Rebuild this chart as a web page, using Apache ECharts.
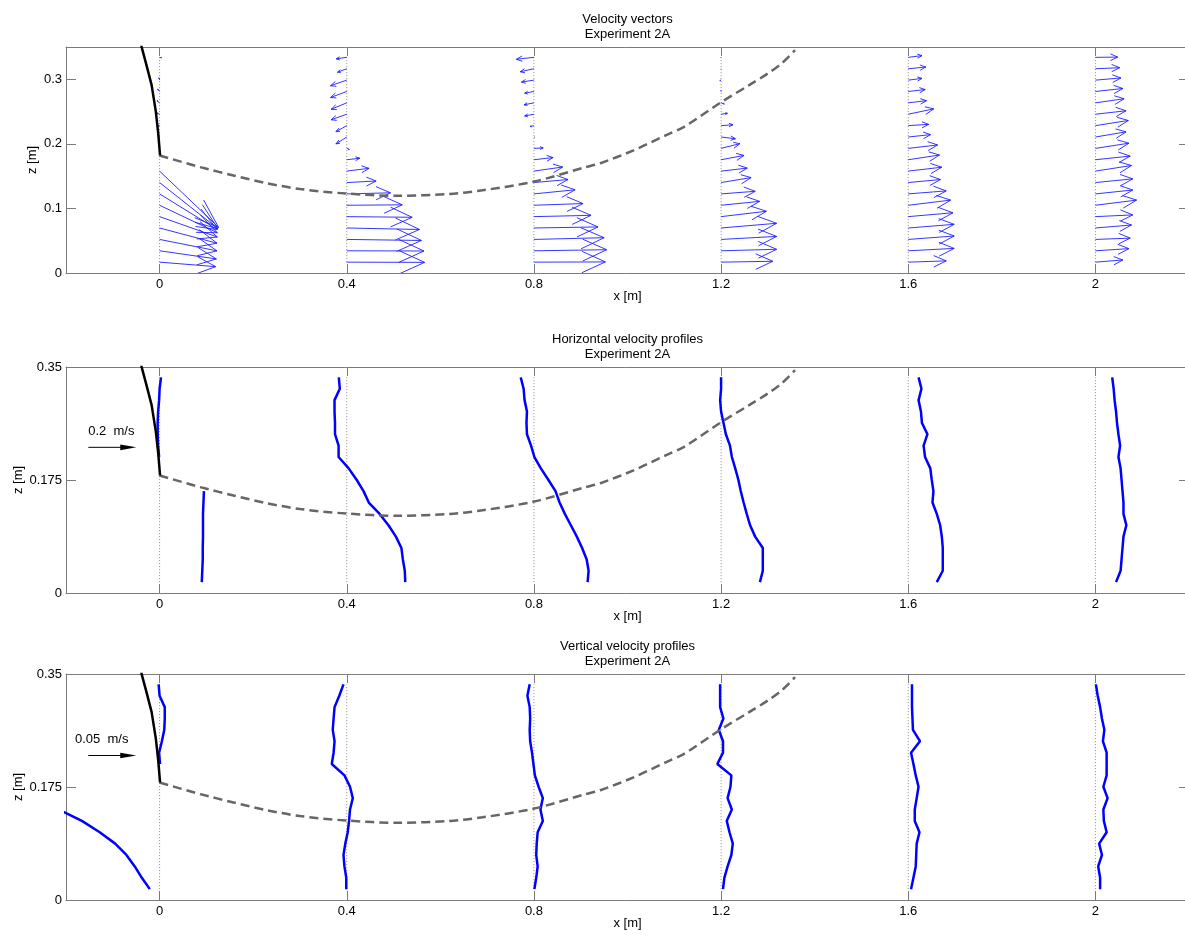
<!DOCTYPE html>
<html>
<head>
<meta charset="utf-8">
<title>Experiment 2A - velocity profiles</title>
<script src="https://cdn.jsdelivr.net/npm/echarts@6/dist/echarts.min.js"></script>
<style>
  html, body { margin: 0; padding: 0; background: #ffffff; }
  #chart { width: 1185px; height: 937px; }
</style>
</head>
<body>
<div id="chart"></div>
<script>
// ---------------------------------------------------------------
// Data: Experiment 2A
// ---------------------------------------------------------------
// Profile stations along the flume (m)
const stations = [0, 0.4, 0.8, 1.2, 1.6, 2.0];

// Measurement heights, bottom to top (m)
const zLevels = [0.0168, 0.0344, 0.0520, 0.0697, 0.0873, 0.1049, 0.1225, 0.1401, 0.1578,
                 0.1754, 0.1930, 0.2106, 0.2282, 0.2459, 0.2635, 0.2811, 0.2987, 0.3163, 0.3340];

// Horizontal velocity u (m/s) at each station, bottom to top (null = no measurement)
const u_x00 = [0.176, 0.178, 0.180, 0.180, 0.181, 0.181, 0.181, 0.183, 0.185,
               null, null, -0.002, -0.006, -0.008, -0.008, -0.006, -0.002, 0.000, 0.006];
const u_x04 = [0.244, 0.242, 0.234, 0.228, 0.205, 0.174, 0.137, 0.092, 0.070,
               0.041, 0.008, -0.034, -0.034, -0.049, -0.049, -0.051, -0.051, -0.029, -0.033];
const u_x08 = [0.224, 0.228, 0.220, 0.201, 0.179, 0.154, 0.129, 0.107, 0.090,
               0.060, 0.029, 0.002, -0.012, -0.029, -0.031, -0.029, -0.039, -0.043, -0.055];
const u_x12 = [0.162, 0.174, 0.174, 0.174, 0.142, 0.121, 0.107, 0.094, 0.082,
               0.072, 0.059, 0.045, 0.037, 0.020, 0.010, 0.000, -0.004, 0.000, 0.000];
const u_x16 = [0.119, 0.144, 0.144, 0.144, 0.140, 0.133, 0.119, 0.101, 0.105,
               0.098, 0.092, 0.070, 0.064, 0.080, 0.057, 0.053, 0.043, 0.055, 0.043];
const u_x20 = [0.086, 0.105, 0.109, 0.113, 0.117, 0.129, 0.117, 0.117, 0.113,
               0.109, 0.105, 0.096, 0.103, 0.096, 0.090, 0.086, 0.080, 0.076, 0.070];

// Vertical velocity w (m/s) at each station, bottom to top (null = no measurement)
const w_x00 = [-0.0102, -0.0185, -0.0259, -0.0346, -0.0463, -0.0624, -0.0810, -0.1049, -0.1278,
               null, null, 0.0005, -0.0005, 0.0024, 0.0049, 0.0054, 0.0054, 0.0000, -0.0010];
const w_x04 = [-0.0005, -0.0005, -0.0024, -0.0034, -0.0015, 0.0010, 0.0024, 0.0034, 0.0063,
               0.0034, -0.0024, -0.0156, -0.0137, -0.0127, -0.0146, -0.0137, -0.0127, -0.0078, -0.0034];
const w_x08 = [0.0005, 0.0024, 0.0039, 0.0024, 0.0029, 0.0039, 0.0093, 0.0068, 0.0093,
               0.0049, 0.0010, -0.0005, -0.0020, -0.0039, -0.0044, -0.0039, -0.0044, -0.0068, -0.0044];
const w_x12 = [0.0020, 0.0034, 0.0068, 0.0107, 0.0122, 0.0088, 0.0059, 0.0112, 0.0068,
               0.0098, 0.0107, -0.0039, 0.0020, 0.0020, -0.0024, 0.0024, -0.0010, -0.0010, -0.0010];
const w_x16 = [0.0029, 0.0054, 0.0078, 0.0083, 0.0088, 0.0117, 0.0068, 0.0068, 0.0088,
               0.0107, 0.0078, 0.0054, 0.0029, 0.0122, 0.0049, 0.0044, 0.0039, 0.0039, 0.0039];
const w_x20 = [0.0049, 0.0049, 0.0029, 0.0068, 0.0039, 0.0117, 0.0088, 0.0083, 0.0127,
               0.0083, 0.0117, 0.0117, 0.0117, 0.0078, 0.0093, 0.0068, 0.0049, 0.0024, 0.0005];

// Sloping wall above the inflow (m)
const slopeX = [-0.040, -0.038, -0.028, -0.017, -0.008, -0.003, 0.001];
const slopeZ = [0.356, 0.349, 0.322, 0.291, 0.250, 0.217, 0.182];

// Interface / bed line (m)
const interfaceX = [0.000, 0.087, 0.158, 0.230, 0.300, 0.400, 0.510, 0.620, 0.690, 0.800,
                    0.906, 0.942, 1.013, 1.084, 1.120, 1.200, 1.260, 1.300, 1.330, 1.358];
const interfaceZ = [0.182, 0.164, 0.151, 0.139, 0.130, 0.123, 0.1195, 0.1225, 0.128, 0.1416,
                    0.163, 0.170, 0.190, 0.214, 0.226, 0.2645, 0.291, 0.309, 0.325, 0.345];

// Axis ticks
const xTicks = [0, 0.4, 0.8, 1.2, 1.6, 2];
const zTicksVectors = [0, 0.1, 0.2, 0.3];
const zTicksProfiles = [0, 0.175, 0.35];

// Titles
const panelTitles = ['Velocity vectors', 'Horizontal velocity profiles', 'Vertical velocity profiles'];
const subTitle = 'Experiment 2A';

// Reference velocities for the scale arrows (m/s)
const refLabels = ['0.2  m/s', '0.05  m/s'];
const refValues = [0.2, 0.05];

// ---------------------------------------------------------------
// Drawing settings
// ---------------------------------------------------------------
const VEC_SCALE = 0.682;   // m of arrow per m/s (vector plot)
const U_SCALE = 0.5125;    // m of offset per m/s (horizontal profiles)
const W_SCALE = 2.05;      // m of offset per m/s (vertical profiles)

const FONT = '"Liberation Sans", Arial, Helvetica, sans-serif';
const AXIS_COLOR = '#7b7b7b';
const TEXT_COLOR = '#000000';
const GRID_LEFT = 66, GRID_WIDTH = 1123, GRID_HEIGHT = 226;
const GRID_TOPS = [47, 367, 674];
const Y_NAME_GAPS = [27, 41, 41];   // wider tick labels push the z label further out

const U = [u_x00, u_x04, u_x08, u_x12, u_x16, u_x20];
const W = [w_x00, w_x04, w_x08, w_x12, w_x16, w_x20];

const fmt = v => String(Math.round(v * 1000) / 1000);
const zip = (xs, zs) => xs.map((x, i) => [x, zs[i]]);

// ---------------------------------------------------------------
// Axes
// ---------------------------------------------------------------
const grids = GRID_TOPS.map(t => ({
  left: GRID_LEFT, top: t, width: GRID_WIDTH, height: GRID_HEIGHT,
  containLabel: false, outerBoundsMode: 'none'
}));

const xAxes = [], yAxes = [];
GRID_TOPS.forEach((t, g) => {
  const zTicks = g === 0 ? zTicksVectors : zTicksProfiles;
  xAxes.push({
    type: 'value', gridIndex: g, min: -0.2, max: 2.2, position: 'bottom',
    axisLine: { show: true, onZero: false, lineStyle: { color: AXIS_COLOR, width: 1 } },
    axisTick: { show: true, inside: true, length: 9, customValues: xTicks, lineStyle: { color: AXIS_COLOR } },
    axisLabel: { show: true, customValues: xTicks, formatter: fmt, color: TEXT_COLOR, fontSize: 13, fontFamily: FONT, margin: 5 },
    splitLine: { show: false },
    name: 'x [m]', nameLocation: 'middle', nameGap: 17, nameMoveOverlap: false,
    nameTextStyle: { color: TEXT_COLOR, fontSize: 13, fontFamily: FONT }
  });
  xAxes.push({
    type: 'value', gridIndex: g, min: -0.2, max: 2.2, position: 'top',
    axisLine: { show: true, onZero: false, lineStyle: { color: AXIS_COLOR, width: 1 } },
    axisTick: { show: true, inside: true, length: 9, customValues: xTicks, lineStyle: { color: AXIS_COLOR } },
    axisLabel: { show: false },
    splitLine: { show: false }
  });
  yAxes.push({
    type: 'value', gridIndex: g, min: 0, max: 0.35, position: 'left',
    axisLine: { show: true, onZero: false, lineStyle: { color: AXIS_COLOR, width: 1 } },
    axisTick: { show: true, inside: true, length: 10, customValues: zTicks, lineStyle: { color: AXIS_COLOR } },
    axisLabel: { show: true, customValues: zTicks, formatter: fmt, color: TEXT_COLOR, fontSize: 13, fontFamily: FONT, margin: 4 },
    splitLine: { show: false },
    name: 'z [m]', nameLocation: 'middle', nameGap: Y_NAME_GAPS[g], nameMoveOverlap: false,
    nameTextStyle: { color: TEXT_COLOR, fontSize: 13, fontFamily: FONT }
  });
  yAxes.push({
    type: 'value', gridIndex: g, min: 0, max: 0.35, position: 'right',
    axisLine: { show: true, onZero: false, lineStyle: { color: AXIS_COLOR, width: 1 } },
    axisTick: { show: true, inside: true, length: 10, customValues: zTicks, lineStyle: { color: AXIS_COLOR } },
    axisLabel: { show: false },
    splitLine: { show: false }
  });
});

// ---------------------------------------------------------------
// Series helpers
// ---------------------------------------------------------------
function onPanel(g, s) {
  s.xAxisIndex = 2 * g;
  s.yAxisIndex = 2 * g;
  s.silent = true;
  return s;
}

// Dotted zero lines at every station
function stationLines(g) {
  return stations.map(x0 => onPanel(g, {
    type: 'line', symbol: 'none', z: 1,
    data: [[x0, zLevels[0]], [x0, zLevels[zLevels.length - 1]]],
    lineStyle: { color: '#8c8c8c', width: 1, type: [1, 2] }
  }));
}

function wallAndInterface(g) {
  return [
    onPanel(g, {
      type: 'line', symbol: 'none', z: 4, smooth: 0.3,
      data: zip(interfaceX, interfaceZ),
      lineStyle: { color: '#666666', width: 2.5, type: [9, 5] }
    }),
    onPanel(g, {
      type: 'line', symbol: 'none', z: 5,
      data: zip(slopeX, slopeZ),
      lineStyle: { color: '#000000', width: 2.5 }
    })
  ];
}

// Contiguous pieces of a profile, offset from the station by value * scale
function profilePieces(x0, vals, scale) {
  const pieces = [];
  let cur = [];
  vals.forEach((v, i) => {
    if (v === null) {
      if (cur.length) pieces.push(cur);
      cur = [];
    } else {
      cur.push([x0 + v * scale, zLevels[i]]);
    }
  });
  if (cur.length) pieces.push(cur);
  return pieces;
}

function profileSeries(g, table, scale) {
  const out = [];
  stations.forEach((x0, s) => {
    profilePieces(x0, table[s], scale).forEach(piece => {
      out.push(onPanel(g, {
        type: 'line', symbol: 'none', z: 3,
        data: piece,
        lineStyle: { color: '#0000ff', width: 2.5 }
      }));
    });
  });
  return out;
}

// Quiver arrow with open head (head size proportional to arrow length)
function renderVector(params, api) {
  const x0 = api.value(0), z0 = api.value(1);
  const dx = api.value(2) * VEC_SCALE, dz = api.value(3) * VEC_SCALE;
  const tx = x0 + dx, tz = z0 + dz;
  const a = 0.33, b = 0.33, eps = 1e-9;
  const h1 = [tx - a * (dx + b * (dz + eps)), tz - a * (dz - b * (dx + eps))];
  const h2 = [tx - a * (dx - b * (dz + eps)), tz - a * (dz + b * (dx + eps))];
  const style = { stroke: '#1f1fff', lineWidth: 0.9, fill: null };
  return {
    type: 'group',
    children: [
      { type: 'polyline', shape: { points: [api.coord([x0, z0]), api.coord([tx, tz])] }, style: style },
      { type: 'polyline', shape: { points: [api.coord(h1), api.coord([tx, tz]), api.coord(h2)] }, style: style }
    ]
  };
}

const vectorData = [];
stations.forEach((x0, s) => {
  zLevels.forEach((z, k) => {
    if (U[s][k] !== null && W[s][k] !== null) vectorData.push([x0, z, U[s][k], W[s][k]]);
  });
});

// Reference arrow with label: [x start, z, arrow length, label x, label z]
function scaleArrow(g, idx, data) {
  return onPanel(g, {
    type: 'custom', z: 6, clip: false,
    data: [data],
    renderItem: (params, api) => {
      const p0 = api.coord([api.value(0), api.value(1)]);
      const p1 = api.coord([api.value(0) + api.value(2), api.value(1)]);
      const pt = api.coord([api.value(3), api.value(4)]);
      const headLen = 16, headHalf = 2.8;
      return {
        type: 'group',
        children: [
          { type: 'line', shape: { x1: p0[0], y1: p0[1], x2: p1[0] - headLen + 2, y2: p1[1] },
            style: { stroke: '#000000', lineWidth: 1 } },
          { type: 'polygon', shape: { points: [[p1[0], p1[1]], [p1[0] - headLen, p1[1] - headHalf], [p1[0] - headLen, p1[1] + headHalf]] },
            style: { fill: '#000000' } },
          { type: 'text', x: pt[0], y: pt[1],
            style: { text: refLabels[idx], fill: TEXT_COLOR, font: '13px ' + FONT, align: 'left', verticalAlign: 'middle' } }
        ]
      };
    }
  });
}

// ---------------------------------------------------------------
// Assemble
// ---------------------------------------------------------------
const series = [];
// Panel 1: velocity vectors
series.push(...stationLines(0));
series.push(onPanel(0, {
  type: 'custom', z: 3, clip: true,
  data: vectorData,
  encode: { x: 0, y: 1 },
  renderItem: renderVector
}));
series.push(...wallAndInterface(0));

// Panel 2: horizontal velocity profiles
series.push(...stationLines(1));
series.push(...profileSeries(1, U, U_SCALE));
series.push(...wallAndInterface(1));
series.push(scaleArrow(1, 0, [-0.1523, 0.2256, refValues[0] * U_SCALE, -0.1525, 0.250]));

// Panel 3: vertical velocity profiles
series.push(...stationLines(2));
series.push(...profileSeries(2, W, W_SCALE));
series.push(...wallAndInterface(2));
series.push(scaleArrow(2, 1, [-0.1523, 0.2238, refValues[1] * W_SCALE, -0.1808, 0.249]));

// Panel titles, centred over each plot area
const titleGraphics = panelTitles.map((t, i) => ({
  type: 'text',
  x: GRID_LEFT + GRID_WIDTH / 2,
  y: GRID_TOPS[i] - 35,
  silent: true,
  style: {
    text: t + '\n' + subTitle,
    align: 'center', verticalAlign: 'top',
    font: '13px ' + FONT, lineHeight: 15, fill: TEXT_COLOR
  }
}));

const chart = echarts.init(document.getElementById('chart'), null, { renderer: 'canvas' });
chart.setOption({
  animation: false,
  backgroundColor: '#ffffff',
  grid: grids,
  xAxis: xAxes,
  yAxis: yAxes,
  graphic: titleGraphics,
  series: series
});
</script>
</body>
</html>
